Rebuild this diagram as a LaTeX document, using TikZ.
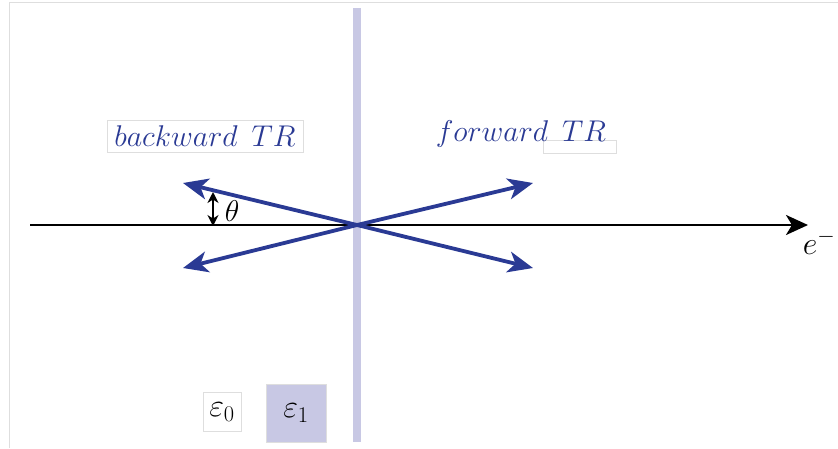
\RequirePackage{fix-cm}
\documentclass[tikz,border=0pt]{standalone}
\usepackage{tikz}
\usetikzlibrary{arrows.meta, positioning, calc}
\definecolor{trblue}{RGB}{42,58,148}
\definecolor{plate}{RGB}{200,200,228}
\definecolor{frame}{RGB}{222,222,222}

\begin{document}
\begin{tikzpicture}[
    x=1pt, y=-1pt,
    label/.style={rectangle, draw=frame, line width=0.8pt, inner sep=0pt, text=trblue, font=\fontsize{30}{36}\selectfont},
    epsbox/.style={rectangle, draw=frame, line width=0.8pt, inner sep=0pt, font=\fontsize{32}{38}\selectfont},
    ray/.style={-{Stealth[length=25pt, width=21pt, inset=7pt]}, trblue, line width=3.8pt},
    axis/.style={-{Stealth[length=22pt, width=20pt, inset=6pt]}, black, line width=2.6pt}
]
    \useasboundingbox (0,0) rectangle (838,448);
    % faint frame and the plate
    \draw[frame, line width=1pt] (9,448) -- (9,2) -- (838,2);
    \fill[plate] (353,8) rectangle (361,442);

    \coordinate (c) at (357,225);
    \coordinate (axstart) at (30,225);
    \coordinate (axend) at (808,225);
    \coordinate (bup) at (183,183);
    \coordinate (bdown) at (183,268);
    \coordinate (fup) at (533,183);
    \coordinate (fdown) at (533,268);

    \draw[axis] (axstart) -- (axend);
    \node (elec) at (819,242) {\fontsize{32}{38}\selectfont$e^-$};

    \draw[ray] (c) -- (bup);
    \draw[ray] (c) -- (bdown);
    \draw[ray] (c) -- (fup);
    \draw[ray] (c) -- (fdown);

    % angle
    \coordinate (th1) at (213,192);
    \coordinate (th2) at (213,226);
    \draw[{Stealth[length=11pt, width=11pt]}-{Stealth[length=11pt, width=11pt]}, line width=2.4pt] (th1) -- (th2);
    \node (theta) at (232,211) {\fontsize{30}{36}\selectfont$\theta$};

    % labels
    \node[label, minimum width=196pt, minimum height=32pt] (back) at (205,136) {$backward\ \,TR$};
    \draw[frame, line width=0.8pt] (543,140) rectangle (616,153);
    \node[text=trblue, font=\fontsize{30}{36}\selectfont] (fwd) at (521,134) {$forward\ \,TR$};

    % media
    \node[epsbox, fill=white, minimum width=38pt, minimum height=39pt] (eps0) at (222,412) {$\varepsilon_0$};
    \node[epsbox, fill=plate, minimum width=60pt, minimum height=58pt] (eps1) at (296,413) {$\varepsilon_1$};
\end{tikzpicture}
\end{document}
